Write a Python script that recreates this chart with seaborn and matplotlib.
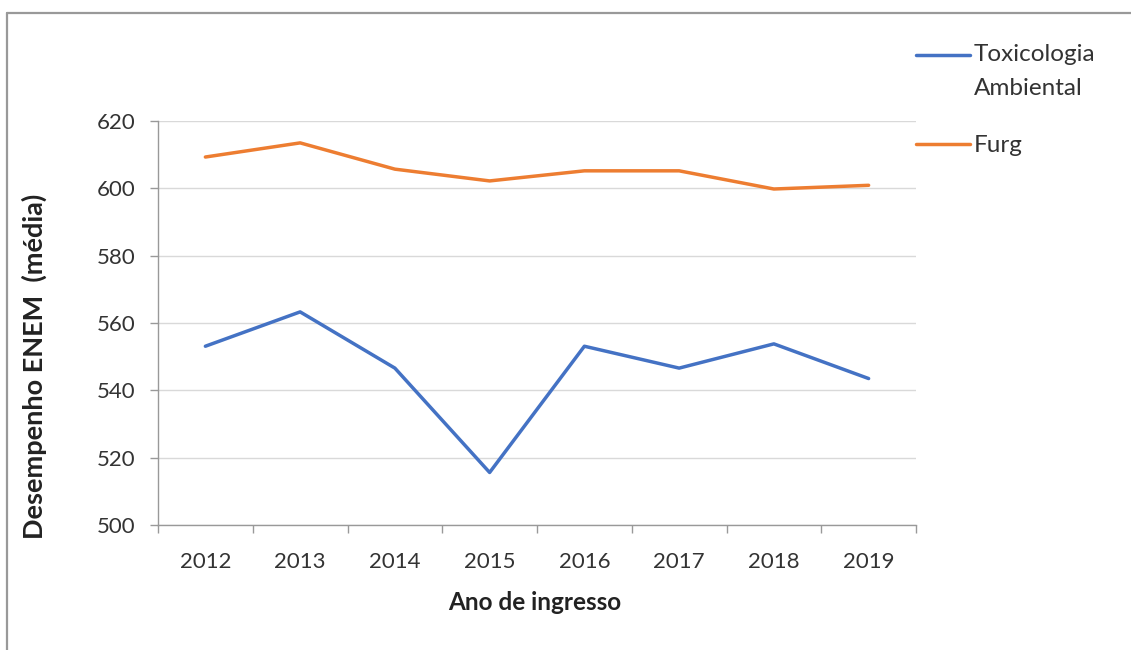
import matplotlib
matplotlib.use("Agg")
import matplotlib.pyplot as plt
from matplotlib.lines import Line2D
from matplotlib.ticker import FixedLocator
import seaborn as sns
import pandas as pd

anos = ["2012", "2013", "2014", "2015", "2016", "2017", "2018", "2019"]
toxicologia = [553.1, 563.3, 546.6, 515.6, 553.1, 546.6, 553.8, 543.5]
furg = [609.3, 613.5, 605.7, 602.2, 605.2, 605.2, 599.8, 600.9]
series_names = ["Toxicologia\nAmbiental", "Furg"]
colors = ["#4472C4", "#ED7D31"]
y_ticks = [500, 520, 540, 560, 580, 600, 620]

df = pd.DataFrame({
    "Ano": anos * 2,
    "Valor": toxicologia + furg,
    "Serie": [series_names[0]] * len(anos) + [series_names[1]] * len(anos),
})

sns.set_theme(style="white")
plt.rcParams["font.family"] = ["Lato", "DejaVu Sans"]

W, H = 1131, 650
fig = plt.figure(figsize=(W / 100, H / 100), dpi=100)
ax = fig.add_axes([158 / W, 1 - 525 / H, (916 - 158) / W, (525 - 121) / H])

sns.lineplot(data=df, x="Ano", y="Valor", hue="Serie", palette=colors,
             linewidth=2.5, ax=ax, legend=False, sort=False)

ax.set_xlim(-0.5, len(anos) - 0.5)
ax.set_ylim(500, 620)
ax.set_yticks(y_ticks)
ax.set_xticks(range(len(anos)))
ax.set_xticklabels(anos)
ax.xaxis.set_minor_locator(FixedLocator([i - 0.5 for i in range(len(anos) + 1)]))
ax.tick_params(axis="x", which="major", length=0, pad=19.5, labelsize=16, labelcolor="#333333")
ax.tick_params(axis="x", which="minor", length=5.8, width=1, color="#999999", direction="out", bottom=True)
ax.tick_params(axis="y", length=5.8, width=1, color="#999999", direction="out", left=True,
               pad=10.5, labelsize=16, labelcolor="#333333")

ax.grid(axis="y", color="#d9d9d9", linewidth=1)
ax.grid(axis="x", visible=False)
for s in ["top", "right"]:
    ax.spines[s].set_visible(False)
for s in ["left", "bottom"]:
    ax.spines[s].set_color("#999999")
    ax.spines[s].set_linewidth(1)

ax.set_xlabel("Ano de ingresso", fontsize=17.5, fontweight="bold", color="#222222")
ax.xaxis.label.set_va("baseline")
ax.xaxis.set_label_coords((535 - 158) / 758, -(610 - 525) / 404)
ax.set_ylabel("Desempenho ENEM  (média)", fontsize=19.5, fontweight="bold", color="#222222")
ax.yaxis.label.set_va("center")
ax.yaxis.set_label_coords((34 - 158) / 758, (525 - 366.5) / 404)

# legend (Excel-style, to the right of the plot area)
handle_y = [55, 144]
text_base = [95, 152]  # baseline of the last text line of each entry
for name, col, hy, ty in zip(series_names, colors, handle_y, text_base):
    fig.add_artist(Line2D([916 / W, 970 / W], [1 - hy / H, 1 - hy / H],
                          color=col, linewidth=2.5, transform=fig.transFigure))
    fig.text(974 / W, 1 - ty / H, name, fontsize=17.5, color="#333333",
             va="baseline", ha="left", linespacing=1.75)

# outer chart frame
fig.add_artist(Line2D([7 / W, 7 / W], [0, 1 - 13 / H], color="#999999", linewidth=1.6,
                      transform=fig.transFigure))
fig.add_artist(Line2D([7 / W, 1], [1 - 13 / H, 1 - 13 / H], color="#999999", linewidth=1.6,
                      transform=fig.transFigure))

fig.savefig("out.png", dpi=100)
